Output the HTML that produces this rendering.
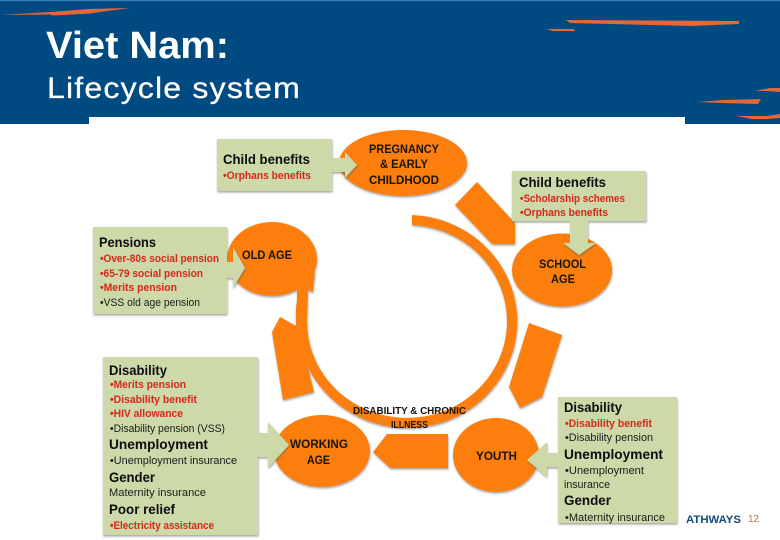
<!DOCTYPE html>
<html><head><meta charset="utf-8"><title>Viet Nam: Lifecycle system</title>
<style>
html,body{margin:0;padding:0;background:#fff;width:780px;height:540px;overflow:hidden}
svg{display:block}
text{font-family:"Liberation Sans",sans-serif}
.h{font-size:14px;font-weight:bold;fill:#0c0c0c}
.r{font-size:11px;font-weight:bold;fill:#d8281c}
.k{font-size:11px;fill:#1a1a1a}
.n{font-weight:bold;fill:#151208;font-size:12px}
</style></head>
<body>
<svg width="780" height="540" viewBox="0 0 780 540" xmlns="http://www.w3.org/2000/svg">
<defs>
<filter id="s" x="-10%" y="-10%" width="120%" height="125%"><feDropShadow dx="0.5" dy="1.5" stdDeviation="1" flood-color="#555" flood-opacity="0.55"/></filter>
<filter id="b" x="-5%" y="-5%" width="110%" height="110%"><feGaussianBlur stdDeviation="0.35"/></filter>
</defs>
<polygon points="0,0 780,0 780,124 685,124 685,117 89,117 89,124 0,124" fill="#004a82"/>
<rect x="0" y="0" width="780" height="1.2" fill="#3f7fb5"/>
<g fill="#e2683a">
<polygon points="1,15 50,12 88,9 130,8 100,12 90,13.5 53,15.5 50,14.5"/>
<polygon points="566,20 739,21 739,24 692,26 570,23"/>
<polygon points="546,29 574,29 575,31 553,31"/>
<polygon points="755,91 770,88 780,88 780,92 765,91"/>
<polygon points="697,102 723,100 761,99 758,104 723,103"/>
<polygon points="736,116 767,116 780,114 780,118 767,119 752,119"/>
</g>
<text x="46" y="58" font-size="38" font-weight="bold" fill="#fff" textLength="183" lengthAdjust="spacingAndGlyphs">Viet Nam:</text>
<text x="47" y="98" font-size="30" fill="#fff" stroke="#fff" stroke-width="0.3" letter-spacing="1.1" textLength="254" lengthAdjust="spacingAndGlyphs">Lifecycle system</text>

<g fill="#fc7f0f" filter="url(#s)">
<ellipse cx="403" cy="163" rx="64" ry="33"/>
<ellipse cx="562" cy="270" rx="50" ry="36.5"/>
<ellipse cx="272" cy="259" rx="45" ry="37"/>
<ellipse cx="322" cy="451" rx="48" ry="36"/>
<ellipse cx="496" cy="455" rx="43" ry="37"/>
<polygon points="477,182 515,223 515,244 492,244 455,205"/>
<polygon points="529,323 562,335 542,397 520,408 509,387"/>
<polygon points="387,434 448,434 448,468 390,468 373,452"/>
<polygon points="272,332 280,317 298,327 314,392 283,400"/>
<path d="M412,215 A110,106.5 0 1 1 300,345 A110,106.5 0 0 1 297,300 L297,291 L300,287 L315,272 L313,292 L308,290 L307,320 A100,96.5 0 1 0 412,225 Z"/>
</g>

<g fill="#cdd9a9" filter="url(#s)">
<path d="M217,139H332V158H345V152L357,165L345,178V172H332V191H217Z"/>
<path d="M512,171H646V221H588V243H596L579,255L563,243H570V221H512Z"/>
<path d="M93,227H227V262H233V247L245,268L233,288V278H227V314H93Z"/>
<path d="M103,357H258V433H268V422L289,445L268,468V457H258V535H103Z"/>
<path d="M558,397H677V523H558V467H547V477L527,460L547,442V453H558Z"/>
</g>

<g filter="url(#b)">
<text class="h" x="223" y="164" textLength="87" lengthAdjust="spacingAndGlyphs">Child benefits</text>
<text class="r" x="223" y="179" textLength="88" lengthAdjust="spacingAndGlyphs">•Orphans benefits</text>

<text class="h" x="99" y="247" textLength="57" lengthAdjust="spacingAndGlyphs">Pensions</text>
<text class="r" x="100" y="262" textLength="119" lengthAdjust="spacingAndGlyphs">•Over-80s social pension</text>
<text class="r" x="100" y="277" textLength="103" lengthAdjust="spacingAndGlyphs">•65-79 social pension</text>
<text class="r" x="100" y="291" textLength="77" lengthAdjust="spacingAndGlyphs">•Merits pension</text>
<text class="k" x="100" y="306" textLength="100" lengthAdjust="spacingAndGlyphs">•VSS old age pension</text>

<text class="n" x="242" y="259" textLength="50" lengthAdjust="spacingAndGlyphs">OLD AGE</text>
<text class="n" x="369" y="153" textLength="70" lengthAdjust="spacingAndGlyphs">PREGNANCY</text>
<text class="n" x="380" y="168" textLength="48" lengthAdjust="spacingAndGlyphs">&amp; EARLY</text>
<text class="n" x="369" y="184" textLength="70" lengthAdjust="spacingAndGlyphs">CHILDHOOD</text>

<text class="h" x="519" y="187" textLength="87" lengthAdjust="spacingAndGlyphs">Child benefits</text>
<text class="r" x="520" y="202" textLength="105" lengthAdjust="spacingAndGlyphs">•Scholarship schemes</text>
<text class="r" x="520" y="216" textLength="88" lengthAdjust="spacingAndGlyphs">•Orphans benefits</text>

<text class="n" x="539" y="268" textLength="47" lengthAdjust="spacingAndGlyphs">SCHOOL</text>
<text class="n" x="551" y="283" textLength="24" lengthAdjust="spacingAndGlyphs">AGE</text>

<text class="h" x="109" y="375" textLength="58" lengthAdjust="spacingAndGlyphs">Disability</text>
<text class="r" x="110" y="388" textLength="76" lengthAdjust="spacingAndGlyphs">•Merits pension</text>
<text class="r" x="110" y="403" textLength="87" lengthAdjust="spacingAndGlyphs">•Disability benefit</text>
<text class="r" x="110" y="417" textLength="73" lengthAdjust="spacingAndGlyphs">•HIV allowance</text>
<text class="k" x="110" y="432" textLength="115" lengthAdjust="spacingAndGlyphs">•Disability pension (VSS)</text>
<text class="h" x="109" y="449" textLength="99" lengthAdjust="spacingAndGlyphs">Unemployment</text>
<text class="k" x="110" y="464" textLength="127" lengthAdjust="spacingAndGlyphs">•Unemployment insurance</text>
<text class="h" x="109" y="482" textLength="46" lengthAdjust="spacingAndGlyphs">Gender</text>
<text class="k" x="109" y="496" textLength="97" lengthAdjust="spacingAndGlyphs">Maternity insurance</text>
<text class="h" x="109" y="514" textLength="66" lengthAdjust="spacingAndGlyphs">Poor relief</text>
<text class="r" x="110" y="529" textLength="104" lengthAdjust="spacingAndGlyphs">•Electricity assistance</text>

<text class="n" x="290" y="448" textLength="58" lengthAdjust="spacingAndGlyphs">WORKING</text>
<text class="n" x="307" y="464" textLength="23" lengthAdjust="spacingAndGlyphs">AGE</text>

<text class="n" style="font-size:10.5px" x="353" y="414" textLength="113" lengthAdjust="spacingAndGlyphs">DISABILITY &amp; CHRONIC</text>
<text class="n" style="font-size:10.5px" x="391" y="428" textLength="37" lengthAdjust="spacingAndGlyphs">ILLNESS</text>

<text class="n" x="476" y="460" textLength="41" lengthAdjust="spacingAndGlyphs">YOUTH</text>

<text class="h" x="564" y="412" textLength="58" lengthAdjust="spacingAndGlyphs">Disability</text>
<text class="r" x="565" y="427" textLength="87" lengthAdjust="spacingAndGlyphs">•Disability benefit</text>
<text class="k" x="565" y="441" textLength="88" lengthAdjust="spacingAndGlyphs">•Disability pension</text>
<text class="h" x="564" y="459" textLength="99" lengthAdjust="spacingAndGlyphs">Unemployment</text>
<text class="k" x="565" y="474" textLength="79" lengthAdjust="spacingAndGlyphs">•Unemployment</text>
<text class="k" x="564" y="488" textLength="46" lengthAdjust="spacingAndGlyphs">insurance</text>
<text class="h" x="564" y="505" textLength="47" lengthAdjust="spacingAndGlyphs">Gender</text>
<text class="k" x="565" y="521" textLength="100" lengthAdjust="spacingAndGlyphs">•Maternity insurance</text>

<text x="686" y="523" font-size="11" font-weight="bold" fill="#0f4c81" textLength="55" lengthAdjust="spacingAndGlyphs">ATHWAYS</text>
<text x="748" y="522" font-size="10" fill="#b5714a" textLength="11" lengthAdjust="spacingAndGlyphs">12</text>
</g>
</svg>
</body></html>
